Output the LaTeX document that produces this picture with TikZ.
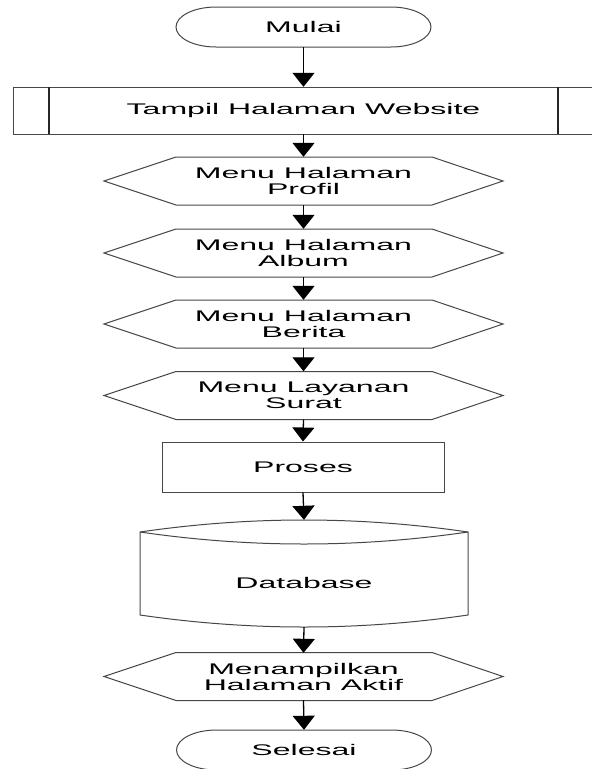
\documentclass[tikz,border=0pt]{standalone}
\usepackage{fontspec}
\setmainfont[FakeStretch=2.08]{Liberation Sans}
\usetikzlibrary{arrows.meta,calc}

\tikzset{
  x=1pt, y=-1pt,
  outline/.style={draw=black!72, line width=1pt},
  holder/.style={inner sep=0pt, align=center,
    font=\fontsize{15.4}{16}\selectfont},
  flow/.style={draw=black, line width=1.3pt,
    -{Triangle[width=22pt,length=14pt]}},
}

% stadium outline with elliptical ends: centre x, centre y
\newcommand\termoutline[2]{%
  \draw[outline] (#1-87.5,#2-20) -- (#1+87.5,#2-20)
    .. controls (#1+109.6,#2-20) and (#1+127.5,#2-11.05) .. (#1+127.5,#2)
    .. controls (#1+127.5,#2+11.05) and (#1+109.6,#2+20) .. (#1+87.5,#2+20)
    -- (#1-87.5,#2+20)
    .. controls (#1-109.6,#2+20) and (#1-127.5,#2+11.05) .. (#1-127.5,#2)
    .. controls (#1-127.5,#2-11.05) and (#1-109.6,#2-20) .. (#1-87.5,#2-20)
    -- cycle;}

% hexagonal display outline: centre y
\newcommand\hexoutline[1]{%
  \draw[outline] (104,#1) -- (176,#1-24) -- (432,#1-24) -- (503,#1)
    -- (432,#1+24) -- (176,#1+24) -- cycle;}

\begin{document}
\begin{tikzpicture}
  \path[use as bounding box, fill=white] (0,0) rectangle (592,769);
  \clip (0,0) rectangle (592,769);

  % start
  \termoutline{303.5}{27}
  \node[holder, minimum width=255pt, minimum height=40pt] (mulai) at (303.5,27) {Mulai};

  % predefined process
  \draw[outline] (13,87) rectangle (594,134);
  \draw[outline, draw=black!85, line width=1.4pt] (49,87) -- (49,134) (558,87) -- (558,134);
  \node[holder, minimum width=581pt, minimum height=47pt] (tampil) at (303.5,110.5) {Tampil Halaman Website};

  % menu displays
  \hexoutline{181}
  \node[holder, minimum width=399pt, minimum height=48pt] (profil) at (303.5,181) {Menu Halaman\\Profil};
  \hexoutline{253}
  \node[holder, minimum width=399pt, minimum height=48pt] (album) at (303.5,253) {Menu Halaman\\Album};
  \hexoutline{324}
  \node[holder, minimum width=399pt, minimum height=48pt] (berita) at (303.5,324) {Menu Halaman\\Berita};
  \hexoutline{395.5}
  \node[holder, minimum width=399pt, minimum height=48pt] (surat) at (303.5,395.5) {Menu Layanan\\Surat};

  % process
  \node[holder, outline, minimum width=282pt, minimum height=50pt] (proses) at (303,467) {Proses};

  % database
  \draw[outline] (140,532) .. controls (250,516) and (358,516) .. (468,532)
    -- (468,615) .. controls (358,631) and (250,631) .. (140,615) -- cycle;
  \draw[outline] (140,532) .. controls (250,548) and (358,548) .. (468,532);
  \node[holder, minimum width=328pt, minimum height=107pt] (db) at (304,573.5) {};
  \node[holder] (dbtext) at (304,583) {Database};

  % result display
  \hexoutline{676.5}
  \node[holder, minimum width=399pt, minimum height=47pt] (aktif) at (303.5,676.5) {Menampilkan\\Halaman Aktif};

  % end
  \termoutline{304}{750}
  \node[holder, minimum width=255pt, minimum height=40pt] (selesai) at (304,750) {Selesai};

  % flow
  \draw[flow] (mulai.south) -- (tampil.north);
  \draw[flow] (tampil.south) -- (profil.north);
  \draw[flow] (profil.south) -- (album.north);
  \draw[flow] (album.south) -- (berita.north);
  \draw[flow] (berita.south) -- (surat.north);
  \draw[flow] (surat.south) -- (proses.north);
  \draw[flow] (proses.south) -- (db.north);
  \draw[flow] (db.south) -- (aktif.north);
  \draw[flow] (aktif.south) -- (selesai.north);
\end{tikzpicture}
\end{document}
